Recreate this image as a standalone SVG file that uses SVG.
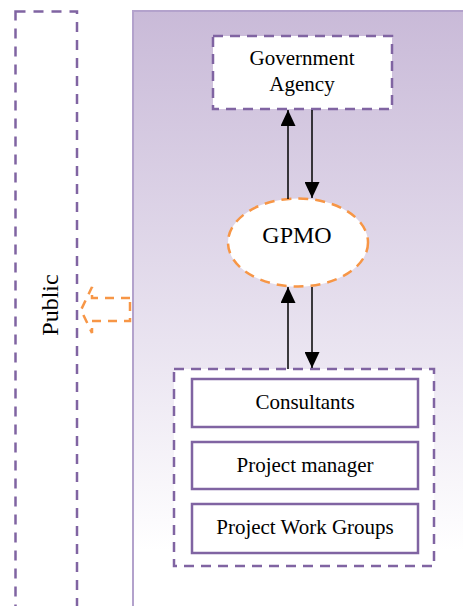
<svg xmlns="http://www.w3.org/2000/svg" width="463" height="606" viewBox="0 0 463 606">
<defs>
<linearGradient id="bg" x1="0" y1="0" x2="0" y2="1">
<stop offset="0" stop-color="#c9bad8"/>
<stop offset="0.55" stop-color="#e9e3f0"/>
<stop offset="0.9" stop-color="#ffffff"/>
</linearGradient>
<marker id="ah" viewBox="0 0 16 15" refX="16" refY="7.5" markerWidth="16" markerHeight="15" markerUnits="userSpaceOnUse" orient="auto">
<path d="M0,0 L16,7.5 L0,15 z" fill="#000"/>
</marker>
<style>
.dash{fill:#fff;stroke:#8064a2;stroke-width:2.5;stroke-dasharray:10,7}
.solid{fill:#fff;stroke:#8064a2;stroke-width:2.5}
.t{font-family:"Liberation Serif","Times New Roman",serif;fill:#000;text-anchor:middle}
.conn{stroke:#000;stroke-width:1.5;fill:none;marker-end:url(#ah)}
</style>
</defs>
<rect width="463" height="606" fill="#fff"/>
<g id="panel">
<rect x="133" y="11" width="332" height="600" fill="url(#bg)" stroke="#b3a2cc" stroke-width="2"/>
</g>
<g id="public">
<rect x="15.5" y="11.5" width="61.5" height="600" fill="none" stroke="#8064a2" stroke-width="2.5" stroke-dasharray="10,8"/>
<text class="t" font-size="24" transform="translate(58,305) rotate(-90)">Public</text>
</g>
<g id="public-arrow">
<path d="M130,298 L92,298 L92,287 L81,310 L92,333 L92,321 L130,321 Z" fill="#fff" stroke="#f79646" stroke-width="2.5" stroke-dasharray="9,7"/>
</g>
<g id="agency">
<rect class="dash" x="213" y="36" width="179" height="73"/>
<text class="t" font-size="21" x="302" y="65">Government</text>
<text class="t" font-size="21" x="302" y="91">Agency</text>
</g>
<g id="gpmo">
<ellipse cx="298" cy="242.5" rx="70" ry="44" fill="#fff" stroke="#f79646" stroke-width="2.5" stroke-dasharray="10,7"/>
<text class="t" font-size="24" x="297" y="243">GPMO</text>
</g>
<g id="team">
<rect class="dash" x="174" y="369" width="260" height="197"/>
</g>
<g id="consultants">
<rect class="solid" x="192" y="379" width="226" height="48"/>
<text class="t" font-size="21" x="305" y="409">Consultants</text>
</g>
<g id="pm">
<rect class="solid" x="192" y="442" width="226" height="47"/>
<text class="t" font-size="21" x="305" y="472">Project manager</text>
</g>
<g id="pwg">
<rect class="solid" x="192" y="504" width="226" height="49"/>
<text class="t" font-size="21" x="305" y="534">Project Work Groups</text>
</g>
<g id="connectors">
<line class="conn" x1="288" y1="199" x2="288" y2="110"/>
<line class="conn" x1="312" y1="110" x2="312" y2="198"/>
<line class="conn" x1="288" y1="369" x2="288" y2="287"/>
<line class="conn" x1="312" y1="287" x2="312" y2="368"/>
</g>
</svg>
